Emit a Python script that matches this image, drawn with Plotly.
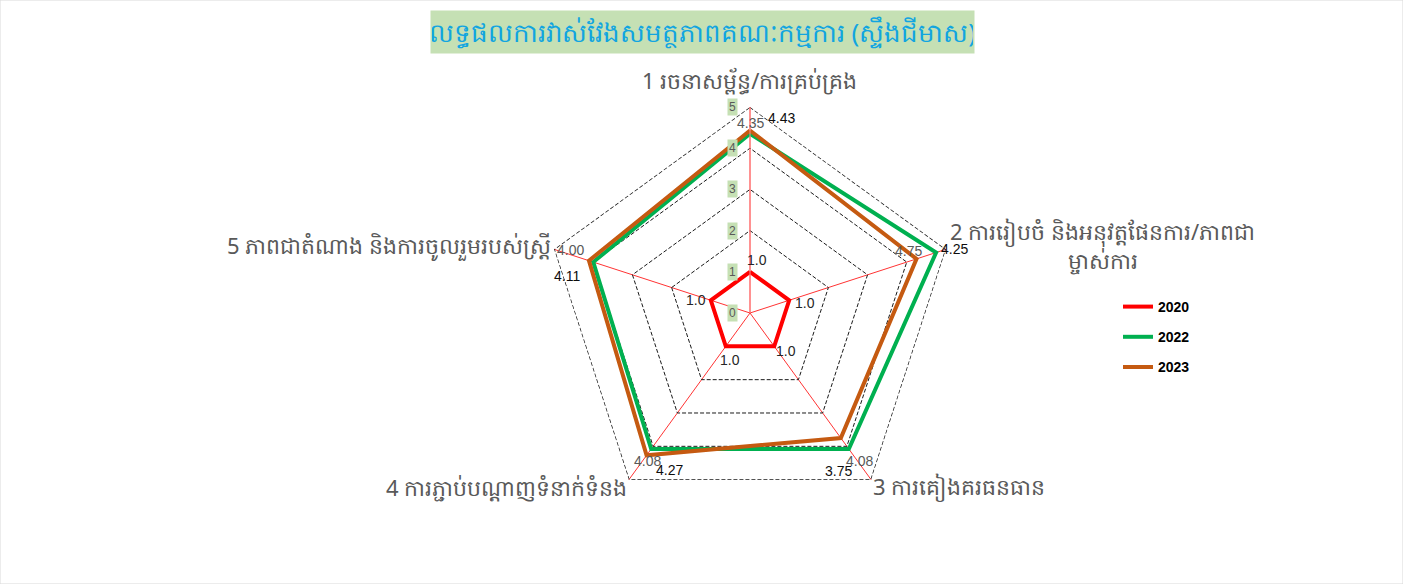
import math
import plotly.graph_objects as go

# Assessment categories (clockwise from the top)
categories = [
    "1 រចនាសម្ព័ន្ធ/ការគ្រប់គ្រង",
    "2 ការរៀបចំ និងអនុវត្តផែនការ/ភាពជា<br>ម្ចាស់ការ",
    "3 ការគៀងគរធនធាន",
    "4 ការភ្ជាប់បណ្តាញទំនាក់ទំនង",
    "5 ភាពជាតំណាង និងការចូលរួមរបស់ស្ត្រី",
]
years = ["2020", "2022", "2023"]
scores_2020 = [1.0, 1.0, 1.0, 1.0, 1.0]
scores_2022 = [4.35, 4.75, 4.08, 4.08, 4.00]
scores_2023 = [4.43, 4.25, 3.75, 4.27, 4.11]
radial_ticks = [0, 1, 2, 3, 4, 5]

title_text = "លទ្ធផលការវាស់វែងសមត្ថភាពគណៈកម្មការ (ស្ទឹងជីមាស)"

series = [
    (years[0], scores_2020, "#ff0000", "#262626"),
    (years[1], scores_2022, "#00b050", "#595959"),
    (years[2], scores_2023, "#c55a11", "#0d0d0d"),
]
# pixel nudges (right, up) for each value label
label_shift = {
    "2020": [(7, 12), (16, -3), (12, -5), (4, -14), (-15, 0)],
    "2022": [(0, 11), (-28, 2), (11, -12), (-4, -12), (-23, 12)],
    "2023": [(31, 12), (38, 10), (-2, -33), (23, -15), (-22, -15)],
}
# category label anchoring: (xanchor, right shift, up shift)
cat_anchor = [("center", 0, 27), ("left", 2, 4), ("left", 0, -7), ("right", 0, -7), ("right", -1, 4)]

FONT = "Noto Sans, DejaVu Sans, sans-serif"
NUM_FONT = "Liberation Sans, Arial, sans-serif"
W, H = 1403, 584
RMAX = 5
cx, cy, R = 750, 313, 206  # plot centre and frame radius in pixels
dom_x = [(cx - R) / W, (cx + R) / W]
dom_y = [(H - cy - R) / H, (H - cy + R) / H]
GRID_DASH = "4px,2px"
GRID_COLOR = "#1a1a1a"


def angle(i):
    return math.radians(90 - 72 * i)


fig = go.Figure()

theta = categories + [categories[0]]

# dashed outer frame of the web at the top of the scale
fig.add_trace(go.Scatterpolar(
    r=[radial_ticks[-1]] * len(theta), theta=theta, mode="lines",
    line=dict(color=GRID_COLOR, width=1.4, dash=GRID_DASH),
    cliponaxis=False, showlegend=False, hoverinfo="skip",
))

for name, vals, color, _ in series:
    fig.add_trace(go.Scatterpolar(
        r=vals + [vals[0]], theta=theta, mode="lines", name=name,
        line=dict(color=color, width=4), legendgroup=name,
    ))

# Invisible cartesian overlay sharing the polar frame, used for labels
fig.update_layout(
    xaxis=dict(domain=dom_x, range=[-RMAX, RMAX], visible=False, fixedrange=True),
    yaxis=dict(domain=dom_y, range=[-RMAX, RMAX], visible=False, fixedrange=True),
)
fig.add_trace(go.Scatter(x=[None], y=[None], showlegend=False, hoverinfo="skip"))

for name, vals, _, tcolor in series:
    for i, v in enumerate(vals):
        dx, dy = label_shift[name][i]
        fig.add_annotation(
            x=v * math.cos(angle(i)), y=v * math.sin(angle(i)), xref="x", yref="y",
            text=f"{v:.1f}" if name == "2020" else f"{v:.2f}", showarrow=False,
            xshift=dx, yshift=dy,
            font=dict(family=NUM_FONT, size=14, color=tcolor),
        )

for t in radial_ticks:
    fig.add_annotation(
        x=-0.43, y=t, xref="x", yref="y", text=str(t), showarrow=False,
        font=dict(family=NUM_FONT, size=12, color="#595959"),
        bgcolor="#c5e0b4", borderpad=1,
    )

for i, cat in enumerate(categories):
    xa, dx, dy = cat_anchor[i]
    fig.add_annotation(
        x=5 * math.cos(angle(i)), y=5 * math.sin(angle(i)), xref="x", yref="y",
        text=cat, showarrow=False, xanchor=xa, yanchor="middle", align="center",
        xshift=dx, yshift=dy,
        font=dict(family=FONT, size=22, color="#595959"),
    )

fig.add_annotation(
    x=(432 + 973) / 2 / W, y=1 - 32 / H, xref="paper", yref="paper",
    xanchor="center", yanchor="middle",
    text=title_text, showarrow=False, width=541, height=40,
    bgcolor="#c5e0b4", font=dict(family=FONT, size=26, color="#12a5e0"),
)

fig.update_layout(
    width=W, height=H,
    margin=dict(l=0, r=0, t=0, b=0),
    paper_bgcolor="white", plot_bgcolor="white",
    showlegend=True,
    legend=dict(
        x=1118 / W, y=1 - 291 / H, xanchor="left", yanchor="top",
        font=dict(family=NUM_FONT, size=14, color="#000000", weight="bold"),
        tracegroupgap=9, traceorder="grouped", itemwidth=30,
        bgcolor="rgba(0,0,0,0)",
    ),
    polar=dict(
        domain=dict(x=dom_x, y=dom_y),
        gridshape="linear",
        bgcolor="white",
        radialaxis=dict(
            range=[0, RMAX], tickvals=radial_ticks, showticklabels=False,
            showgrid=True, gridcolor=GRID_COLOR, griddash=GRID_DASH, gridwidth=1.4,
            showline=True, linecolor="#ff8a8a", linewidth=1, angle=90,
            ticks="",
        ),
        angularaxis=dict(
            rotation=90, direction="clockwise",
            showgrid=True, gridcolor="#ff3333", gridwidth=1,
            showline=False, ticks="", showticklabels=False,
        ),
    ),
    shapes=[dict(type="rect", xref="paper", yref="paper", x0=0, y0=0, x1=1, y1=1,
                 line=dict(color="#d9d9d9", width=1))],
)

fig.write_html("out.html")
